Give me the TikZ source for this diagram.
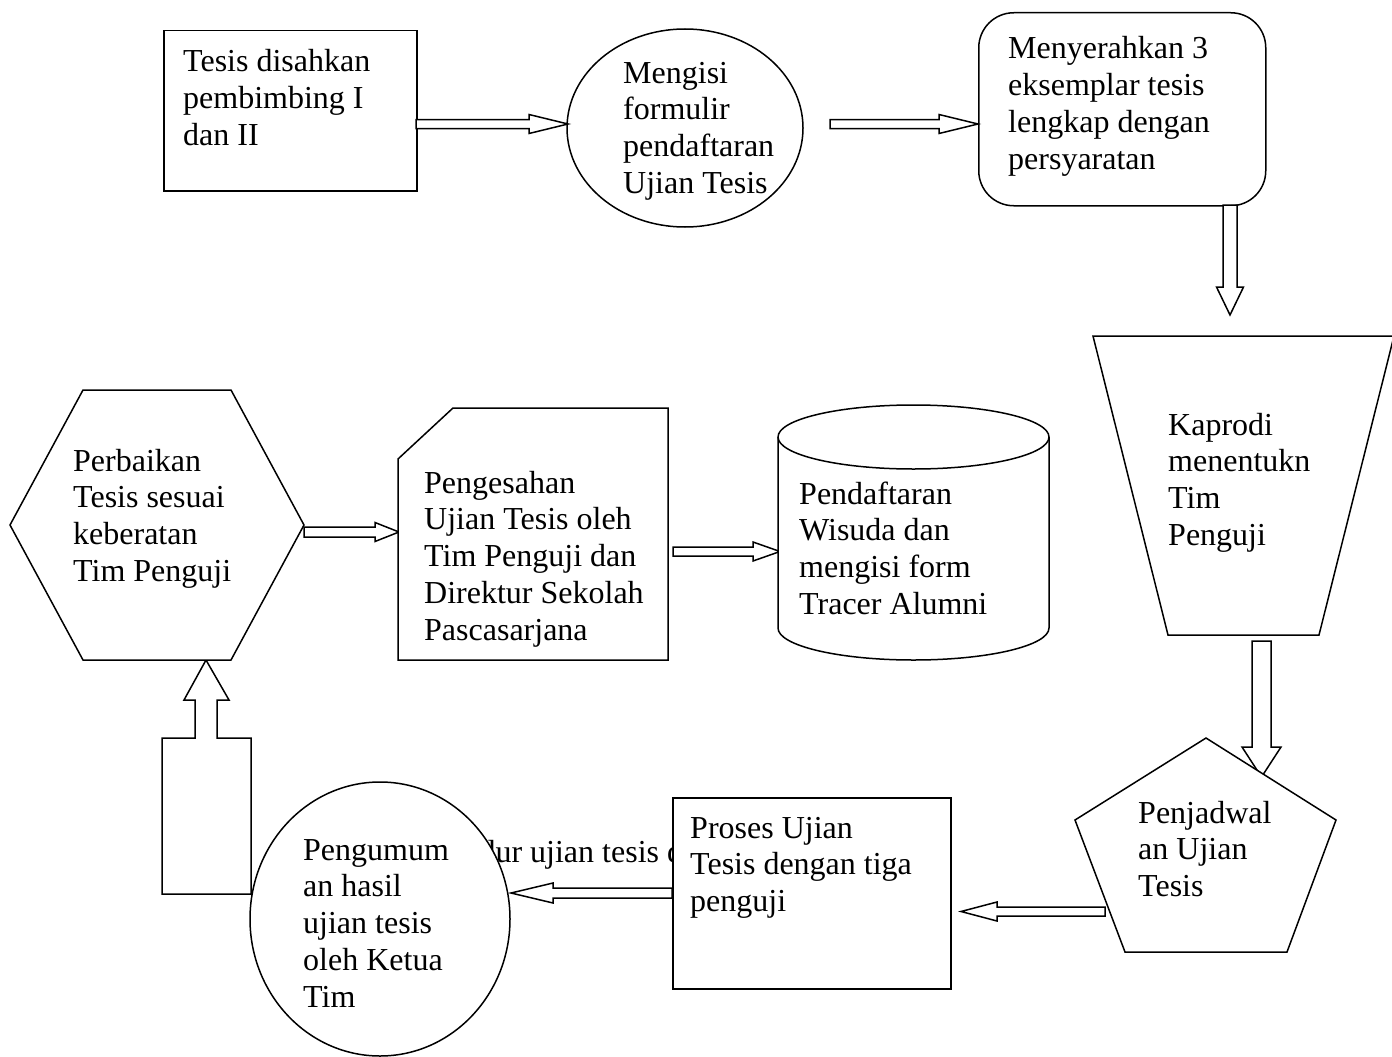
\documentclass[tikz,border=0pt]{standalone}
\usepackage{fontspec}
\setmainfont{Liberation Serif}
\usetikzlibrary{calc,shapes.geometric}
\tikzset{
  shp/.style={draw=black, line width=1.5pt, fill=white, inner sep=0pt},
  blk/.style={draw=black, line width=1.5pt, fill=white, line join=miter},
  txt/.style={anchor=base west, inner sep=0pt, font=\fontsize{32}{36.8}\selectfont},
}
\newcommand{\lns}[1]{\begin{tabular}[t]{@{}l@{}}#1\end{tabular}}
% #1 from, #2 to, #3 shaft half width, #4 head half width, #5 head length
\newcommand{\blockarrow}[5]{%
  \coordinate (bah) at ($(#2)!#5pt!(#1)$);
  \draw[blk] ($(#1)!#3pt!90:(#2)$) -- ($(bah)!#3pt!-90:(#1)$)
    -- ($(bah)!#4pt!-90:(#1)$) -- (#2) -- ($(bah)!#4pt!90:(#1)$)
    -- ($(bah)!#3pt!90:(#1)$) -- ($(#1)!#3pt!-90:(#2)$) -- cycle;
}
\begin{document}
\begin{tikzpicture}[x=1pt,y=-1pt]
\useasboundingbox (0,0) rectangle (1392,1057);

% ---------- top row ----------
\node[shp, rectangle, minimum width=253pt, minimum height=160pt, anchor=north west] (n1) at (163,30) {};
\node[shp, ellipse, minimum width=236pt, minimum height=198pt] (n2) at (685,128) {};
\node[shp, rectangle, rounded corners=35pt, minimum width=287pt, minimum height=193pt, anchor=north west] (n3) at (978,12) {};

\node[txt] (t1) at (183,72) {\lns{Tesis disahkan\\ pembimbing I\\ dan II}};
\node[txt] (t2) at (623,83) {\lns{Mengisi\\ formulir\\ pendaftaran\\ Ujian Tesis}};
\node[txt] (t3) at (1008,59) {\lns{Menyerahkan 3\\ eksemplar tesis\\ lengkap dengan\\ persyaratan}};

\coordinate (a1s) at (416,124); \coordinate (a1e) at (568,124);
\blockarrow{a1s}{a1e}{4.5}{9.5}{39}
\coordinate (a2s) at (830,124); \coordinate (a2e) at (978,124);
\blockarrow{a2s}{a2e}{4.5}{9.5}{39}
\coordinate (a3s) at (1230,205); \coordinate (a3e) at (1230,315);
\blockarrow{a3s}{a3e}{7}{13.5}{28}

% ---------- trapezoid ----------
\draw[shp] (1093,336) coordinate (n4tl) -- (1394,336) -- (1319,635) -- (1168,635) -- cycle;
\node[txt] (t4) at (1168,435) {\lns{Kaprodi\\ menentukn\\ Tim\\ Penguji}};

\coordinate (a4s) at (1261.5,641); \coordinate (a4e) at (1261.5,777);
\blockarrow{a4s}{a4e}{9.5}{19.5}{30}

% ---------- pentagon ----------
\draw[shp] (1206,738) -- (1336,820) -- (1287,952) -- (1125,952) -- (1075,820) -- cycle;
\node[txt] (t5) at (1138,823) {\lns{Penjadwal\\ an Ujian\\ Tesis}};

\coordinate (a5s) at (1105,911.5); \coordinate (a5e) at (961,911.5);
\blockarrow{a5s}{a5e}{4.5}{9.5}{36}

% ---------- hidden text, circle, proses ----------
\node[txt] (hid) at (530,862) {\llap{Prosedur }ujian tesis dan};
\node[shp, ellipse, minimum width=260pt, minimum height=274pt] (n8) at (380,919) {};
\node[shp, rectangle, minimum width=278pt, minimum height=191pt, anchor=north west] (n7) at (672,797) {};
\node[txt] (t6) at (690,838) {\lns{Proses Ujian\\ Tesis dengan tiga\\ penguji}};
\node[txt] (t7) at (303,860) {\lns{Pengumum\\ an hasil\\ ujian tesis\\ oleh Ketua\\ Tim}};

\coordinate (a6s) at (672,893); \coordinate (a6e) at (511,893);
\blockarrow{a6s}{a6e}{5}{10}{42}

% ---------- up block arrow ----------
\draw[blk] (162,894) -- (162,738) -- (195,738) -- (195,700) -- (184,700) -- (206,660)
  -- (229,700) -- (217,700) -- (217,738) -- (251,738) -- (251,894) -- cycle;

% ---------- hexagon ----------
\draw[shp] (10,525) -- (83,390) -- (231,390) -- (304,525) -- (231,660) -- (83,660) -- cycle;
\node[txt] (t8) at (73,471) {\lns{Perbaikan\\ Tesis sesuai\\ keberatan\\ Tim Penguji}};

\coordinate (a7s) at (304,532); \coordinate (a7e) at (399,532);
\blockarrow{a7s}{a7e}{5}{9.5}{24}

% ---------- snipped rectangle ----------
\draw[shp] (453,408) -- (668,408) -- (668,660) -- (398,660) -- (398,459) -- cycle;
\node[txt] (t9) at (424,493) {\lns{Pengesahan\\ Ujian Tesis oleh\\ Tim Penguji dan\\ Direktur Sekolah\\ Pascasarjana}};

\coordinate (a8s) at (673,551.5); \coordinate (a8e) at (780,551.5);
\blockarrow{a8s}{a8e}{4.5}{9.5}{27}

% ---------- cylinder ----------
\draw[shp] (778,437) -- (778,628) arc[start angle=180, end angle=360, x radius=135.5pt, y radius=32pt]
  -- (1049,437) arc[start angle=0, end angle=180, x radius=135.5pt, y radius=32pt] -- cycle;
\draw[shp, fill=none] (778,437) arc[start angle=180, end angle=360, x radius=135.5pt, y radius=32pt];
\node[txt] (t10) at (799,504) {\lns{Pendaftaran\\ Wisuda dan\\ mengisi form\\ Tracer Alumni}};
\end{tikzpicture}
\end{document}
